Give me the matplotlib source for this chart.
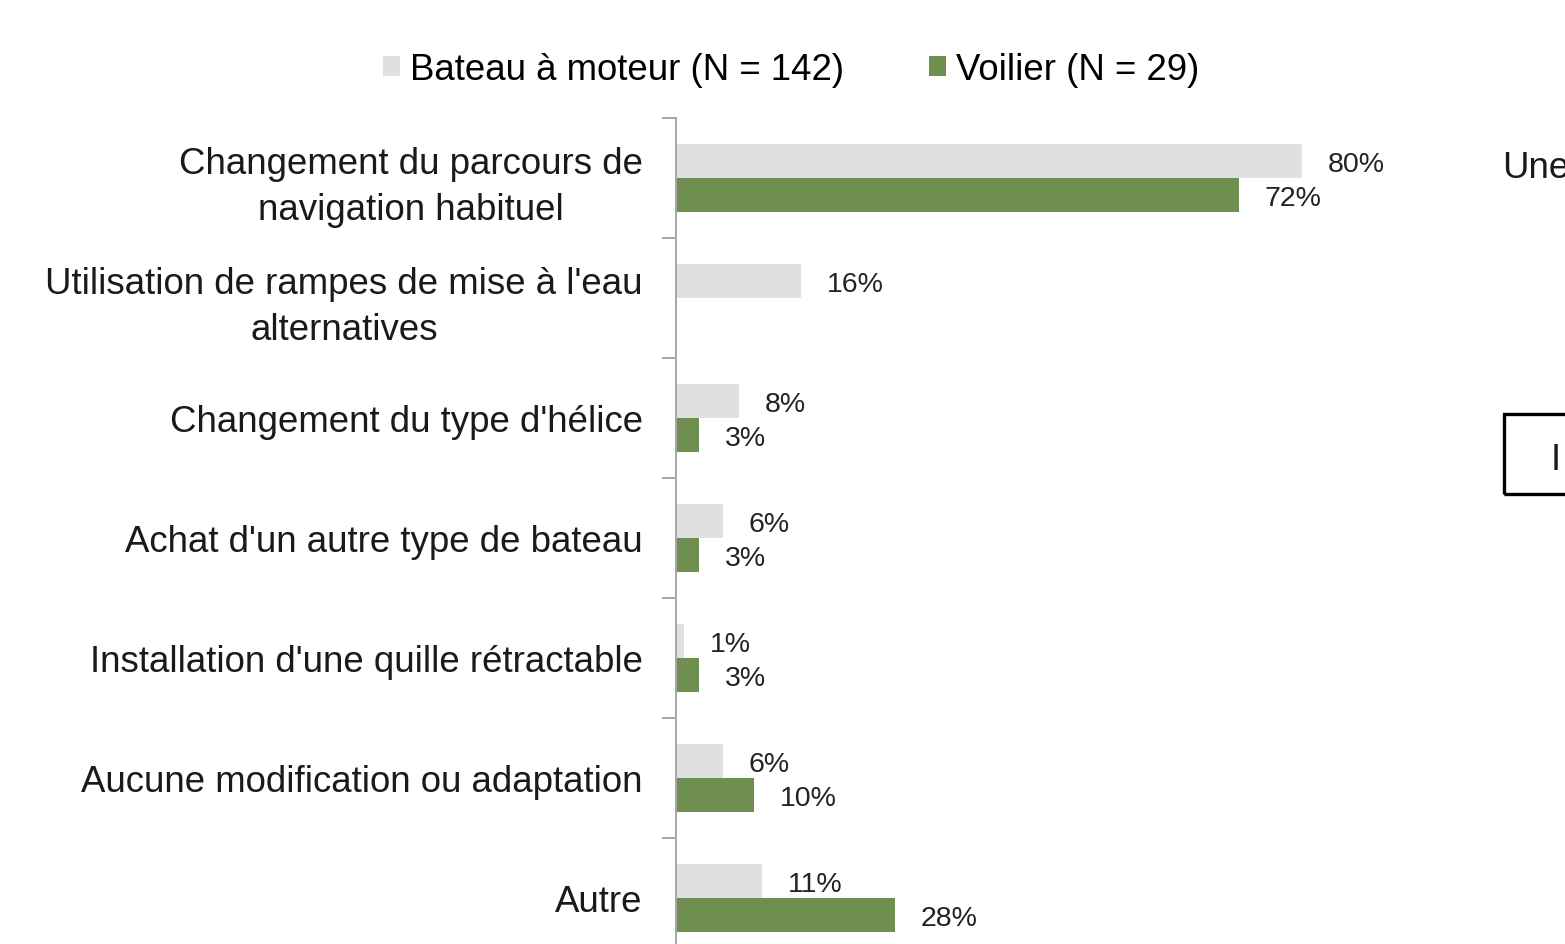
import matplotlib
matplotlib.use("Agg")
import matplotlib.pyplot as plt
from matplotlib.patches import Rectangle
import numpy as np

# data
categories = [
    "Changement du parcours de\nnavigation habituel",
    "Utilisation de rampes de mise à l'eau\nalternatives",
    "Changement du type d'hélice",
    "Achat d'un autre type de bateau",
    "Installation d'une quille rétractable",
    "Aucune modification ou adaptation",
    "Autre",
]
moteur = [80, 16, 8, 6, 1, 6, 11]
voilier = [72, 0, 3, 3, 3, 10, 28]
series_names = ["Bateau à moteur (N = 142)", "Voilier (N = 29)"]

gray = "#E0E0E0"
green = "#6F8F50"

plt.rcParams['font.family'] = ['Liberation Sans', 'DejaVu Sans']

W, H = 1565, 944
fig = plt.figure(figsize=(W / 100, H / 100), dpi=100)

# axes placed in pixel terms: spine at x=676, bands of 120 px from y=118
ax = fig.add_axes([676 / W, (H - 958) / H, 782 / W, 840 / H])

y = np.arange(len(categories))
h = 0.285
ax.barh(y - h / 2, moteur, height=h, color=gray, label=series_names[0])
ax.barh(y + h / 2, voilier, height=h, color=green, label=series_names[1])

ax.set_xlim(0, 100)
ax.set_ylim(len(categories) - 0.5, -0.5)

# value labels
for i, (m, v) in enumerate(zip(moteur, voilier)):
    if m:
        ax.annotate(f"{m}%", (m, i - h / 2), xytext=(18.5, -3), textcoords="offset points",
                    ha="left", va="center", fontsize=20.5, color="#222222")
    if v:
        ax.annotate(f"{v}%", (v, i + h / 2), xytext=(18.5, -3), textcoords="offset points",
                    ha="left", va="center", fontsize=20.5, color="#222222")

# axis style (Excel look)
for s in ["top", "right", "bottom"]:
    ax.spines[s].set_visible(False)
ax.spines["left"].set_color("#A6A6A6")
ax.spines["left"].set_linewidth(1.4)
ax.set_xticks([])
ax.set_yticks(y)
ax.set_yticklabels(categories, fontsize=26.4, color="#1a1a1a")
ax.set_yticks(np.arange(-0.5, len(categories) + 0.5, 1), minor=True)
ax.tick_params(axis="y", which="major", length=0, pad=24)
ax.tick_params(axis="y", which="minor", length=10, width=1.4, color="#A6A6A6", direction="out")
plt.setp(ax.get_yticklabels(), multialignment="center", linespacing=1.42)

# legend across the top
fig.legend(loc="center left", bbox_to_anchor=(383 / W, 1 - 70 / H), ncol=2, frameon=False,
           fontsize=26.4, handlelength=0.46, handleheight=0.46, handletextpad=0.27,
           columnspacing=2.32, borderpad=0, borderaxespad=0)

# pieces of neighbouring content cut off on the right edge (as in the source)
fig.text(1502 / W, 1 - 169 / H, "Une", fontsize=26.4, va="center", ha="left", color="#1a1a1a")
fig.patches.append(Rectangle((1504 / W, 1 - 494 / H), 100 / W, 80 / H, transform=fig.transFigure,
                             fill=False, edgecolor="black", linewidth=2.4))
fig.text(1551 / W, 1 - 461 / H, "I", fontsize=26.4, va="center", ha="left", color="#1a1a1a")

fig.savefig("out.png", dpi=100)
